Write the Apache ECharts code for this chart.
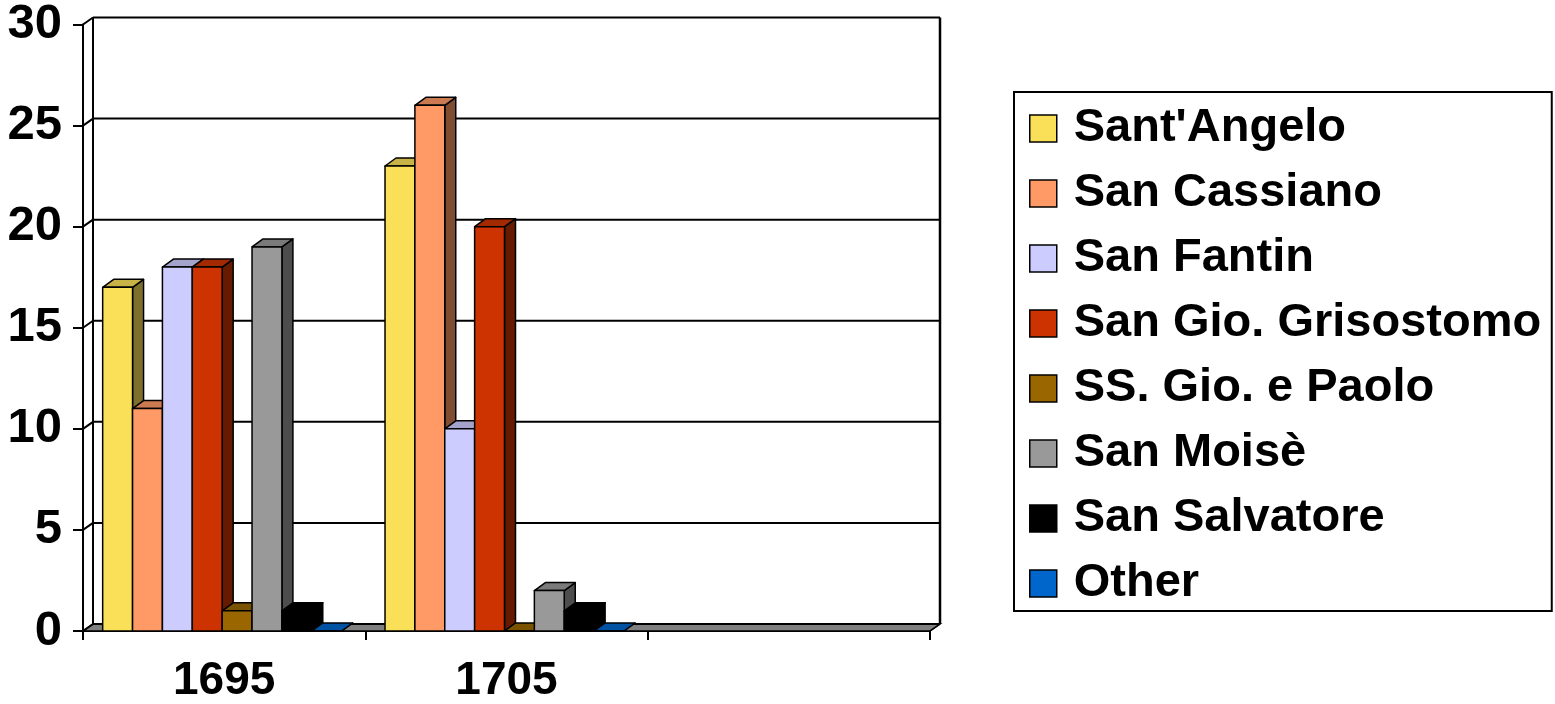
<!DOCTYPE html>
<html>
<head>
<meta charset="utf-8">
<script src="https://cdn.jsdelivr.net/npm/echarts@6/dist/echarts.min.js"></script>
<style>html,body{margin:0;padding:0;background:#fff}#c{width:1555px;height:704px}</style>
</head>
<body>
<div id="c"></div>
<script>
const categories = ['1695', '1705', ''];
const seriesNames = ["Sant'Angelo", 'San Cassiano', 'San Fantin', 'San Gio. Grisostomo', 'SS. Gio. e Paolo', 'San Moisè', 'San Salvatore', 'Other'];
const santAngelo = [17, 23];
const sanCassiano = [11, 26];
const sanFantin = [18, 10];
const sanGioGrisostomo = [18, 20];
const ssGioPaolo = [1, 0];
const sanMoise = [19, 2];
const sanSalvatore = [1, 1];
const other = [0, 0];
const yTickValues = [0, 5, 10, 15, 20, 25, 30];

const seriesValues = [santAngelo, sanCassiano, sanFantin, sanGioGrisostomo, ssGioPaolo, sanMoise, sanSalvatore, other];
const frontColors = ['#F9E058', '#FF9966', '#CCCCFF', '#CC3300', '#996600', '#999999', '#000000', '#0066CC'];
const topColors   = ['#C7B346', '#CC7A52', '#A3A3CC', '#A32900', '#7A5200', '#7A7A7A', '#000000', '#0052A3'];
const sideColors  = ['#7D702C', '#804D33', '#666680', '#661A00', '#4D3300', '#4D4D4D', '#000000', '#003366'];

const FONT = "'Liberation Sans', Arial, sans-serif";
const BDX = 11, BDY = -8;   // bar depth
const WDX = 10, WDY = -7;   // wall depth

function wallRender(params, api) {
  const cs = params.coordSys;
  const xl = cs.x, xr = cs.x + cs.width;
  const children = [];
  const y0 = api.coord([0, 0])[1];
  children.push({
    type: 'polygon',
    shape: { points: [[xl, y0], [xr, y0], [xr + WDX, y0 + WDY], [xl + WDX, y0 + WDY]] },
    style: { fill: '#808080', stroke: '#000', lineWidth: 1.5 }
  });
  const yTop = api.coord([0, yTickValues[yTickValues.length - 1]])[1];
  children.push({ type: 'line', shape: { x1: xl + WDX, y1: yTop + WDY, x2: xl + WDX, y2: y0 + WDY }, style: { stroke: '#000', lineWidth: 2 } });
  children.push({ type: 'line', shape: { x1: xr + WDX, y1: yTop + WDY, x2: xr + WDX, y2: y0 + WDY }, style: { stroke: '#000', lineWidth: 2.5 } });
  yTickValues.forEach(function (v) {
    const y = api.coord([0, v])[1];
    children.push({ type: 'line', shape: { x1: xl, y1: y, x2: xl + WDX, y2: y + WDY }, style: { stroke: '#000', lineWidth: 2 } });
    children.push({ type: 'line', shape: { x1: xl + WDX, y1: y + WDY, x2: xr + WDX, y2: y + WDY }, style: { stroke: '#000', lineWidth: 2 } });
  });
  children.push({ type: 'line', shape: { x1: xr, y1: y0, x2: xr + WDX, y2: y0 + WDY }, style: { stroke: '#000', lineWidth: 1.5 } });
  return { type: 'group', children: children };
}

function makeBarRender(si) {
  return function (params, api) {
    const ci = api.value(0);
    const v = api.value(1);
    const base = api.coord([ci, 0]);
    const top = api.coord([ci, v]);
    const band = api.size([1, 0])[0];
    const bw = band * 0.1058;
    const x0 = base[0] - 4 * bw - 2 + si * bw;
    const x1 = x0 + bw;
    const yb = base[1], yt = top[1];
    const st = { stroke: '#000', lineWidth: 1.5, lineJoin: 'round' };
    return {
      type: 'group',
      children: [
        { type: 'polygon', shape: { points: [[x1, yt], [x1 + BDX, yt + BDY], [x1 + BDX, yb + BDY], [x1, yb]] },
          style: Object.assign({ fill: sideColors[si] }, st) },
        { type: 'polygon', shape: { points: [[x0, yt], [x1, yt], [x1 + BDX, yt + BDY], [x0 + BDX, yt + BDY]] },
          style: Object.assign({ fill: topColors[si] }, st) },
        { type: 'rect', shape: { x: x0, y: yt, width: bw, height: yb - yt },
          style: Object.assign({ fill: frontColors[si] }, st) }
      ]
    };
  };
}

const series = [{
  type: 'custom',
  name: '__wall',
  renderItem: wallRender,
  data: [[0, 0]],
  silent: true,
  z: 1
}];
seriesNames.forEach(function (n, i) {
  series.push({
    type: 'custom',
    name: n,
    renderItem: makeBarRender(i),
    itemStyle: { color: frontColors[i] },
    data: seriesValues[i].map(function (v, ci) { return [ci, v]; }),
    z: 2
  });
});

const chart = echarts.init(document.getElementById('c'), null, { renderer: 'canvas' });
chart.setOption({
  animation: false,
  backgroundColor: '#fff',
  grid: { left: 83, right: 625, top: 23, bottom: 71, containLabel: false },
  xAxis: {
    type: 'category',
    data: categories,
    boundaryGap: true,
    axisLine: { show: true, lineStyle: { color: '#000', width: 2 } },
    axisTick: { show: true, length: 9, lineStyle: { color: '#000', width: 2 } },
    axisLabel: { color: '#000', fontSize: 46, fontWeight: 'bold', fontFamily: FONT, margin: 27 },
    splitLine: { show: false }
  },
  yAxis: {
    type: 'value',
    min: 0, max: 30, interval: 5,
    axisLine: { show: true, lineStyle: { color: '#000', width: 2 } },
    axisTick: { show: true, length: 10, lineStyle: { color: '#000', width: 2 } },
    axisLabel: { color: '#000', fontSize: 49, fontWeight: 'bold', fontFamily: FONT, margin: 21 },
    splitLine: { show: false }
  },
  legend: {
    orient: 'vertical',
    left: 1014, top: 92,
    padding: [13, 0, 4, 15],
    borderColor: '#000', borderWidth: 2,
    itemWidth: 27, itemHeight: 27, itemGap: 18,
    selectedMode: false,
    textStyle: { color: '#000', fontSize: 47, fontWeight: 'bold', fontFamily: FONT, lineHeight: 44, width: 478, padding: [0, 0, 0, 12] },
    data: seriesNames.map(function (n, i) {
      return { name: n, icon: 'rect', itemStyle: { color: frontColors[i], borderColor: '#000', borderWidth: 1.5 } };
    })
  },
  series: series
});
</script>
</body>
</html>
